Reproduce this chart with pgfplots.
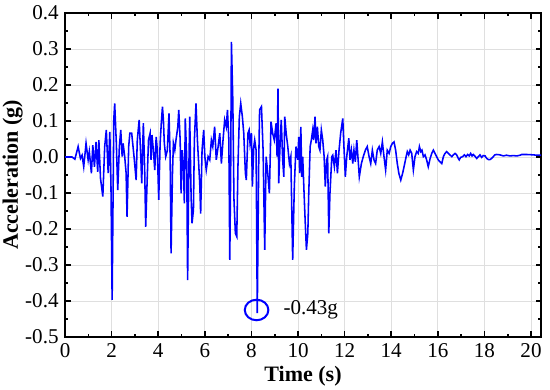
\documentclass[border=0pt]{standalone}
\usepackage{fontspec}
\setmainfont{Liberation Serif}
\usepackage{pgfplots}
\pgfplotsset{compat=1.18}
\begin{document}
\begin{tikzpicture}
\useasboundingbox (-35.5pt,-28.9pt) rectangle (264.5pt,183.8pt);
\begin{axis}[
  at={(0,0)}, anchor=south west,
  scale only axis, width=259.6pt, height=176.7pt,
  xmin=0, xmax=20.43, ymin=-0.5, ymax=0.4,
  xtick={0,2,...,20}, ytick={-0.5,-0.4,...,0.41},
  minor x tick num=1, minor y tick num=1,
  tick align=inside,
  major tick length=3pt, minor tick length=1.8pt,
  every tick/.style={black, line width=0.9pt},
  axis line style={line width=1.2pt, black},
  grid=major, major grid style={gray!25, line width=0.5pt},
  /pgf/number format/assume math mode=true,
  yticklabel style={/pgf/number format/.cd, fixed, fixed zerofill, precision=1},
  xticklabel style={/pgf/number format/.cd, fixed, precision=0},
  tick label style={font=\fontsize{11.5}{13}\selectfont},
  xlabel={Time (s)}, ylabel={Acceleration (g)},
  label style={font=\fontsize{12}{14}\selectfont\bfseries},
  xlabel style={at={(axis description cs:0.5,-0.12)}, anchor=center},
  ylabel style={at={(axis description cs:-0.11,0.5)}, anchor=center},
]
\addplot[blue, line width=0.85pt] coordinates {
(0,0) (0.30,0) (0.42,-0.006) (0.56,0.029) (0.66,-0.004) (0.73,0.005) (0.80,-0.027) (0.90,0.038) (0.99,-0.008) (1.04,0.015) (1.13,-0.045) (1.19,0.033) (1.26,-0.027) (1.33,0.042) (1.40,-0.041) (1.45,0.047) (1.52,-0.059) (1.62,-0.110) (1.70,0.029) (1.77,0.075) (1.85,-0.045) (1.92,0.070) (1.97,-0.082) (2.02,-0.397) (2.09,0.103) (2.13,0.149) (2.20,0.038) (2.26,-0.092) (2.33,0.029) (2.39,0.075) (2.45,0.001) (2.49,0.038) (2.56,0.001) (2.62,-0.045) (2.66,-0.166) (2.73,0.029) (2.78,0.066)
(2.86,0.066) (2.96,0.001) (3.05,-0.064) (3.10,0.047) (3.18,0.103) (3.25,0.001) (3.29,-0.073) (3.36,0.094) (3.42,-0.045) (3.46,-0.194) (3.51,-0.092) (3.58,0.047) (3.65,0.066) (3.69,-0.008) (3.73,0.061) (3.79,0.019) (3.85,-0.036) (3.91,0.056) (3.96,0.019) (4.02,-0.119) (4.08,0.038) (4.13,0.094) (4.18,0.140) (4.22,0.103) (4.26,0.038) (4.32,0.001) (4.39,0.019) (4.46,0.121) (4.51,0.001) (4.55,-0.268) (4.61,-0.045) (4.65,0.038) (4.71,0.019) (4.76,0.047) (4.84,0.084) (4.88,0.131) (4.94,0.047) (4.98,-0.101) (5.03,0.019) (5.08,-0.027) (5.12,-0.129) (5.16,0.107) (5.22,0.001) (5.26,-0.342) (5.31,-0.045) (5.35,0.112) (5.41,-0.110) (5.45,-0.184) (5.51,-0.147) (5.55,0.047) (5.62,0.149) (5.68,0.047)
(5.78,-0.073) (5.82,-0.157) (5.88,0.019) (5.95,0.075) (6.00,0.001) (6.06,-0.036) (6.14,0.001) (6.21,-0.008) (6.28,0.047) (6.34,0.029) (6.42,0.084) (6.49,-0.008) (6.57,0.029) (6.64,0.066) (6.71,-0.018) (6.78,0.047) (6.85,0.103) (6.92,0.084) (6.97,0.131) (7.03,0.047) (7.07,-0.286) (7.11,-0.027) (7.14,0.320) (7.20,0.158) (7.25,-0.119) (7.31,-0.212) (7.37,-0.221) (7.42,-0.027) (7.48,0.112) (7.54,0.149) (7.61,0.112) (7.67,0.066) (7.74,-0.045) (7.78,-0.064) (7.85,0.066) (7.90,0.075) (7.94,0.038) (8.00,0.066) (8.04,-0.082) (8.10,0.029) (8.14,0.047) (8.20,0.019) (8.25,-0.434) (8.31,-0.027) (8.35,0.131) (8.43,0.140) (8.50,0.019) (8.57,-0.258)
(8.63,0.001) (8.70,-0.045) (8.77,-0.101) (8.84,0.098) (8.91,0.066) (8.98,0.047) (9.06,0.094) (9.10,0.001) (9.14,0.190) (9.17,-0.073) (9.23,0.038) (9.28,0.103) (9.34,-0.008) (9.39,-0.055) (9.43,0.112) (9.49,0.066) (9.56,0.029) (9.63,-0.018) (9.69,0.001) (9.77,-0.286) (9.84,-0.082) (9.91,0.029) (9.99,-0.008) (10.03,0.056) (10.07,-0.045) (10.12,0.084) (10.16,-0.055) (10.20,0.001) (10.27,-0.119) (10.31,-0.184) (10.36,-0.258) (10.42,-0.212) (10.46,-0.101) (10.52,0.029) (10.57,0.047) (10.63,0.075) (10.67,0.047) (10.73,0.112) (10.77,0.038) (10.83,0.084) (10.89,0.029) (10.94,0.019) (11.00,0.075) (11.06,0.047) (11.12,0.001) (11.17,-0.082) (11.23,-0.008) (11.27,0.001) (11.32,-0.212) (11.37,-0.101) (11.45,0.001) (11.49,0.005) (11.56,-0.027) (11.63,0.019)
(11.69,-0.045) (11.76,0.019) (11.83,0.066) (11.92,0.107) (11.97,0.029) (12.03,-0.055) (12.09,0.001) (12.18,0.052) (12.23,-0.008) (12.29,0.019) (12.35,-0.018) (12.40,0.019) (12.46,-0.013) (12.52,0.047) (12.58,-0.008) (12.63,-0.055) (12.72,-0.018) (12.80,0.001) (12.89,0.019) (12.97,0.029) (13.05,0.001) (13.12,-0.018) (13.19,0.019) (13.26,-0.008) (13.33,-0.018) (13.40,0.019) (13.48,0.029) (13.55,0.010) (13.62,0.042) (13.69,0.001) (13.76,-0.036) (13.83,0.019) (13.91,0.010) (13.98,0.029) (14.05,0.038) (14.12,0.042) (14.19,0.019) (14.26,-0.018) (14.33,-0.046) (14.41,-0.064)
(14.49,-0.045) (14.58,-0.018) (14.64,0.001) (14.69,0.015) (14.75,0.006) (14.81,0.019) (14.88,0.010) (14.95,-0.036) (15.02,0.001) (15.09,0.015) (15.16,0.010) (15.21,0.029) (15.27,0.015) (15.32,0.019) (15.38,0.001) (15.45,0.006) (15.52,-0.008) (15.59,-0.027) (15.67,-0.004) (15.74,0.010) (15.81,0.019) (15.88,0.010) (15.95,0.001) (16.02,-0.008) (16.09,-0.013) (16.17,-0.018) (16.24,0.001) (16.31,0.010) (16.38,0.015)
(16.45,0.010) (16.52,0.006) (16.60,0.001) (16.67,0.006) (16.74,0.010) (16.81,0.006) (16.88,-0.004) (16.92,-0.008) (16.98,-0.001) (17.07,0.001) (17.14,0.006) (17.21,0.001) (17.28,0.007) (17.35,0.003) (17.41,0.010) (17.47,0.003) (17.52,0.007) (17.61,0.001) (17.67,-0.004) (17.74,0.001) (17.81,0.006) (17.88,-0.001) (17.95,0.004) (18.03,0.003) (18.10,-0.004) (18.17,-0.007) (18.24,-0.007) (18.31,-0.004) (18.38,0.001) (18.45,0.006) (18.53,0.007) (18.67,0.006) (18.81,0.003) (18.95,0.005) (19.10,0.003) (19.24,0.004) (19.39,0.003) (19.53,0.005) (19.60,0.007) (19.81,0.007) (20.10,0.006) (20.24,0.005) (20.43,0.005)
};
\addplot[blue, only marks, mark=o, mark size=5.6pt, mark options={xscale=1.15, line width=1.1pt}] coordinates {(8.22,-0.425)};
\node[anchor=west, font=\fontsize{11.5}{13}\selectfont] at (axis cs:9.1,-0.425) {-0.43g};
\end{axis}
\end{tikzpicture}
\end{document}
